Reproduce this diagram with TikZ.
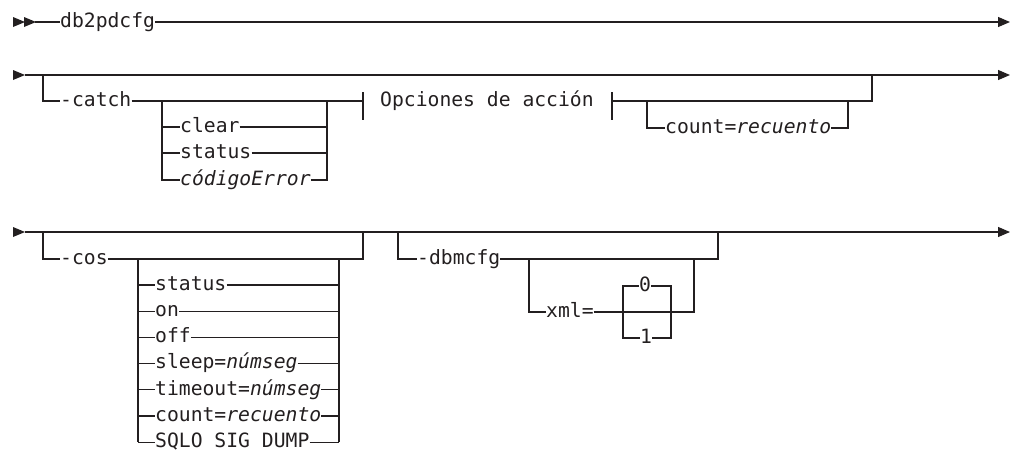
\documentclass[tikz,border=0pt]{standalone}
\usepackage{fontspec}
\setmonofont{DejaVu Sans Mono}
\usepackage{xcolor}
\usepackage{tikz}
\usetikzlibrary{arrows.meta,positioning}
\definecolor{ink}{HTML}{231F20}

\begin{document}
\begin{tikzpicture}[x=1pt,y=-1pt,
  every node/.style={font=\ttfamily\fontsize{19.7}{22}\selectfont,inner sep=0pt,text=ink},
  txt/.style={anchor=mid west},
  val/.style={anchor=mid},
  rail/.style={draw=ink,line width=1.2pt,line join=miter},
  ar/.style={rail,-{Triangle[length=12pt,width=10pt]}},
  tip/.style={fill=ink}]
\ttfamily\fontsize{19.7}{22}\selectfont
\useasboundingbox (0,0) rectangle (1011,451);

% row 1
\fill[tip] (13,17) -- (25,22) -- (13,27) -- cycle;
\fill[tip] (24,17) -- (36,22) -- (24,27) -- cycle;
\coordinate (s1) at (35,22);
\coordinate (e1) at (1010,22);
\node[txt] (cmd) at (60,22) {db2pdcfg};
\draw[rail] (s1) -- (cmd.mid west);
\draw[ar] (cmd.mid east) -- (e1);

% row 2
\fill[tip] (13,70) -- (25,75) -- (13,80) -- cycle;
\coordinate (s2) at (25,75);
\coordinate (e2) at (1010,75);
\coordinate (r2in) at (43,75);
\coordinate (r2out) at (872,75);
\coordinate (catL) at (162,101);
\coordinate (catR) at (327,101);
\coordinate (barA) at (363,101);
\coordinate (barB) at (612,101);
\coordinate (cntL) at (647,101);
\coordinate (cntR) at (848,101);
\draw[ar] (s2) -- (e2);
\node[txt] (catch) at (60,101) {-catch};
\node[txt] (clear) at (180,127) {clear};
\node[txt] (cstat) at (180,153) {status};
\node[txt] (cerr) at (180,180) {\itshape códigoError};
\node[txt] (opc) at (380,101) {Opciones de acción};
\node[txt] (cnt) at (665,128) {count=\textit{recuento}};
\draw[rail] (r2in) |- (catch.mid west);
\draw[rail] (catch.mid east) -- (barA);
\draw[rail] (catL) |- (cerr.mid west);
\draw[rail] (catL |- clear.mid west) -- (clear.mid west);
\draw[rail] (catL |- cstat.mid west) -- (cstat.mid west);
\draw[rail] (cerr.mid east) -| (catR);
\draw[rail] (clear.mid east) -- (catR |- clear.mid east);
\draw[rail] (cstat.mid east) -- (catR |- cstat.mid east);
\draw[rail] ([yshift=9pt]barA) -- ([yshift=-19pt]barA);
\draw[rail] ([yshift=9pt]barB) -- ([yshift=-19pt]barB);
\draw[rail] (barB) -- (r2out |- barB) -- (r2out);
\draw[rail] (cntL) |- (cnt.mid west);
\draw[rail] (cnt.mid east) -| (cntR);

% row 3
\fill[tip] (13,227) -- (25,232) -- (13,237) -- cycle;
\coordinate (s3) at (25,232);
\coordinate (e3) at (1010,232);
\coordinate (r3in) at (43,232);
\coordinate (r3out) at (363,232);
\coordinate (cosL) at (138,259);
\coordinate (cosR) at (339,259);
\coordinate (dbIn) at (398,232);
\coordinate (dbOut) at (718,232);
\coordinate (xmlIn) at (529,259);
\coordinate (xmlOut) at (694,259);
\coordinate (valL) at (623,312);
\coordinate (valR) at (671,312);
\draw[ar] (s3) -- (e3);
\node[txt] (cos) at (60,259) {-cos};
\draw[rail] (r3in) |- (cos.mid west);
\draw[rail] (cos.mid east) -| (r3out);
\foreach \lab [count=\i] in {status,on,off,{sleep=\textit{númseg}},
    {timeout=\textit{númseg}},{count=\textit{recuento}},{SQLO SIG DUMP}} {
  \node[txt] (cos\i) at (155,{258.8+26.2*\i}) {\lab};
  \draw[rail] (cosL |- cos\i.mid west) -- (cos\i.mid west);
  \draw[rail] (cos\i.mid east) -- (cosR |- cos\i.mid east);
}
\draw[rail] (cosL) -- (cosL |- cos7.mid west);
\draw[rail] (cosR) -- (cosR |- cos7.mid east);

\node[txt] (dbm) at (417,259) {-dbmcfg};
\node[txt] (xml) at (546,312) {xml=};
\node[val] (zero) at (645,286) {0};
\node[val] (one) at (646,338) {1};
\draw[rail] (dbIn) |- (dbm.mid west);
\draw[rail] (dbm.mid east) -| (dbOut);
\draw[rail] (xmlIn) |- (xml.mid west);
\draw[rail] (xml.mid east) -| (xmlOut);
\draw[rail] (zero.mid west) -| (valL |- one.mid west) -- (one.mid west);
\draw[rail] (zero.mid east) -| (valR |- one.mid east) -- (one.mid east);
\end{tikzpicture}
\end{document}
